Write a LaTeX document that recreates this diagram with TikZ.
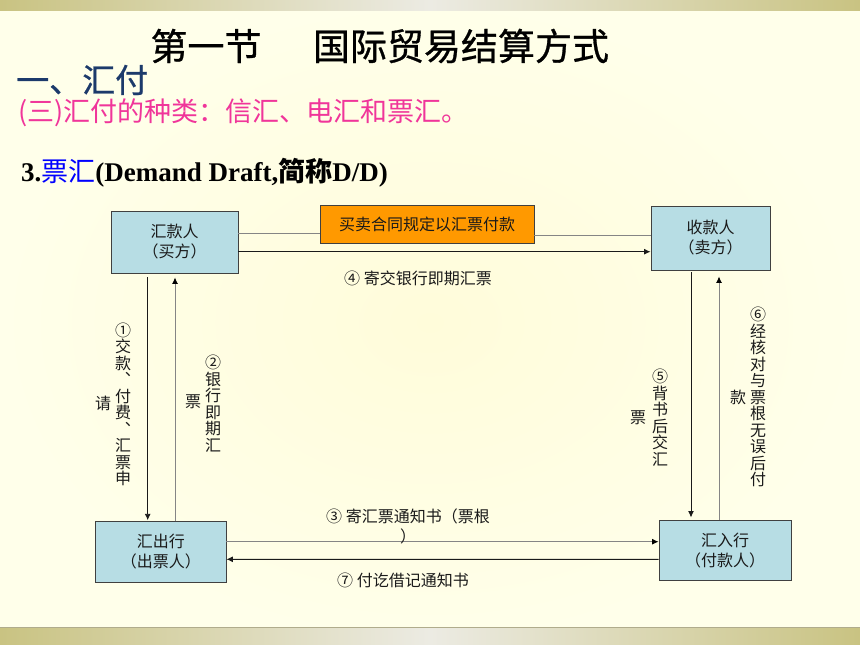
\documentclass[tikz,border=0pt]{standalone}
\usepackage{fontspec}
\setmainfont{Liberation Serif}
\newfontfamily\cjk{Noto Sans CJK SC}
\newfontfamily\cjkt[FakeBold=0.8]{Noto Sans CJK SC}
\usetikzlibrary{arrows.meta}
\definecolor{bgout}{HTML}{FFFFEA}
\definecolor{bgin}{HTML}{FFFCDA}
\definecolor{band}{HTML}{C9C382}
\definecolor{bandmid}{HTML}{ECEBE3}
\definecolor{bandline}{HTML}{B0AC8C}
\definecolor{navy}{HTML}{1C3A6B}
\definecolor{pinkt}{HTML}{F0359A}
\definecolor{boxblue}{HTML}{B7DDE4}
\definecolor{boxline}{HTML}{404040}
\definecolor{orangebox}{HTML}{FF9900}
\definecolor{txt}{HTML}{1A1A1A}
\definecolor{lineblk}{HTML}{1A1A1A}
\definecolor{linegray}{HTML}{858585}
\begin{document}
\begin{tikzpicture}[x=1pt,y=-1pt,
  box/.style={draw=boxline,fill=boxblue,line width=0.9pt,align=center,inner sep=0pt,
    font=\cjk\fontsize{16}{20}\selectfont,text=txt},
  lbl/.style={font=\cjk\fontsize{16}{20}\selectfont,text=txt,inner sep=0pt,align=center},
  vcol/.style={font=\cjk\fontsize{16}{16.5}\selectfont,text=txt,inner sep=0pt,align=center},
  blk/.style={draw=lineblk,line width=0.9pt,-{Latex[length=6.5pt,width=6pt]}},
  gry/.style={draw=linegray,line width=0.9pt,-{Latex[length=6.5pt,width=6pt,color=black]}},
  gryplain/.style={draw=linegray,line width=0.9pt}]
\useasboundingbox (0,0) rectangle (860,645);
% background
\shade[inner color=bgin,outer color=bgout] (0,0) rectangle (860,645);
\shade[left color=band,right color=band,middle color=bandmid] (0,0) rectangle (860,10);
\shade[left color=band,right color=band,middle color=bandmid] (0,627) rectangle (860,645);
\draw[bandline,line width=0.8pt] (0,627) -- (860,627);
% headings
\node[font=\cjkt\fontsize{37}{40}\selectfont,text=black,inner sep=0pt] (t1) at (206,46) {第一节};
\node[font=\cjkt\fontsize{37}{40}\selectfont,text=black,inner sep=0pt] (t2) at (461,46) {国际贸易结算方式};
\node[font=\cjkt\fontsize{33}{36}\selectfont,text=navy,inner sep=0pt,anchor=west] (h1) at (16,80) {一、汇付};
\node[font=\cjk\fontsize{27}{30}\selectfont,text=pinkt,inner sep=0pt,anchor=west] (h2) at (18,113) {(三)汇付的种类：信汇、电汇和票汇。};
\node[font=\fontsize{27}{30}\selectfont,text=black,inner sep=0pt,anchor=west] (h3) at (21,173)
  {\bfseries 3.{\cjk\mdseries\color{blue}票汇}(Demand Draft,{\cjk 简称}D/D)};
% boxes
\node[box,minimum width=127pt,minimum height=62pt] (buyer) at (174.5,242) {汇款人\\（买方）};
\node[box,minimum width=119pt,minimum height=64pt] (seller) at (710.5,238) {收款人\\（卖方）};
\node[box,minimum width=130.5pt,minimum height=60.3pt] (remit) at (160.75,551.9) {汇出行\\（出票人）};
\node[box,minimum width=132pt,minimum height=60.7pt] (pay) at (725,550.3) {汇入行\\（付款人）};
\node[draw=boxline,fill=orangebox,line width=0.9pt,inner sep=0pt,minimum width=214pt,minimum height=37.6pt,
  font=\cjk\fontsize{16}{20}\selectfont,text=txt] (contract) at (427,224.5) {买卖合同规定以汇票付款};
% top connectors
\draw[gryplain] ([yshift=9pt]buyer.east) -- ([yshift=-8.5pt]contract.west);
\draw[gryplain] ([yshift=-10.5pt]contract.east) -- ([yshift=3pt]seller.west);
\draw[blk] ([yshift=-9.7pt]buyer.east) -- ([yshift=-13.7pt]seller.west);
\node[lbl] (l4) at (418,278) {④ 寄交银行即期汇票};
% left verticals
\draw[blk] ([xshift=-26.8pt,yshift=-3.7pt]buyer.south) -- ([xshift=-13.05pt,yshift=1pt]remit.north);
\draw[gry] ([xshift=14.25pt]remit.north) -- ([xshift=0.5pt,yshift=-4pt]buyer.south);
\node[vcol] (c1a) at (123,404.5) {①\\交\\款\\︑\\付\\费\\︑\\汇\\票\\申};
\node[vcol] (c1b) at (103,403) {请};
\node[vcol] (c2a) at (213,403.5) {②\\银\\行\\即\\期\\汇};
\node[vcol] (c2b) at (193,402) {票};
% right verticals
\draw[blk] ([xshift=-19.5pt,yshift=-2pt]seller.south) -- ([xshift=-34pt,yshift=2pt]pay.north);
\draw[gry] ([xshift=-6pt]pay.north) -- ([xshift=8.5pt,yshift=-6pt]seller.south);
\node[vcol] (c5a) at (660,417.5) {⑤\\背\\书\\后\\交\\汇};
\node[vcol] (c5b) at (638,418) {票};
\node[vcol] (c6a) at (758,397) {⑥\\经\\核\\对\\与\\票\\根\\无\\误\\后\\付};
\node[vcol] (c6b) at (738,397) {款};
% bottom connectors
\draw[gry] ([yshift=10.2pt]remit.east) -- ([yshift=8.6pt]pay.west);
\draw[blk] ([yshift=-9pt]pay.west) -- ([yshift=-7.4pt]remit.east);
\node[lbl] (l3) at (408,526.7) {③ 寄汇票通知书（票根\\）};
\node[lbl] (l7) at (403,580.7) {⑦ 付讫借记通知书};
\end{tikzpicture}
\end{document}
